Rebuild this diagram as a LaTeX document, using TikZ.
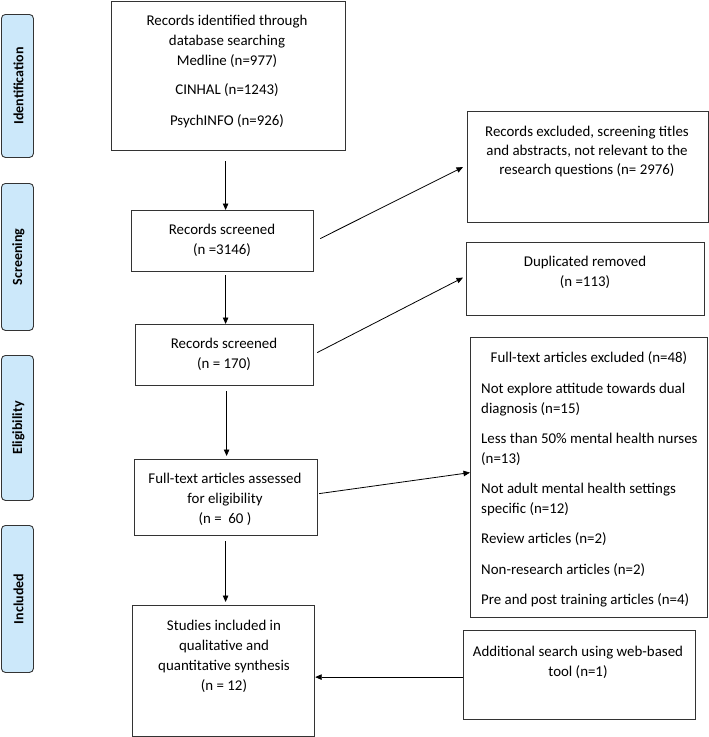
\documentclass[tikz,border=0pt]{standalone}
\usepackage{fontspec}
\setmainfont{Carlito}
\usetikzlibrary{arrows.meta}
\definecolor{barfill}{HTML}{CCE8FA}
\definecolor{edgegray}{HTML}{333333}
\begin{document}
\begin{tikzpicture}[x=1pt,y=-1pt,
  box/.style={draw=edgegray, line width=1.2pt, rectangle, inner sep=0pt, anchor=north west},
  txt/.style={font=\fontsize{14.9}{20}\selectfont, align=center, inner sep=0pt, anchor=north},
  ltxt/.style={font=\fontsize{14.9}{20}\selectfont, align=left, inner sep=0pt, anchor=north west},
  bar/.style={draw=edgegray, fill=barfill, rounded corners=4pt, line width=0.9pt, inner sep=0pt, anchor=north west},
  bartxt/.style={rotate=90, font=\bfseries\fontsize{14}{16}\selectfont, inner sep=0pt},
  arr/.style={-{Triangle[length=6.5pt,width=5.5pt]}, line width=0.8pt, draw=black}]
\useasboundingbox (0,0) rectangle (709,737);

% side bars
\node[bar, minimum width=32pt, minimum height=143pt] (s1) at (1,14) {};
\node[bar, minimum width=32pt, minimum height=147pt] (s2) at (1,183) {};
\node[bar, minimum width=32pt, minimum height=145pt] (s3) at (1,355) {};
\node[bar, minimum width=32pt, minimum height=147pt] (s4) at (1,525) {};
\node[bartxt] (s1t) at ([xshift=1pt]s1.center) {Identification};
\node[bartxt] (s2t) at ([xshift=1pt]s2.center) {Screening};
\node[bartxt] (s3t) at ([xshift=1pt]s3.center) {Eligibility};
\node[bartxt] (s4t) at ([xshift=1pt]s4.center) {Included};

% main boxes
\node[box, minimum width=234pt, minimum height=149pt] (b1) at (111,1) {};
\node[box, minimum width=182pt, minimum height=61pt] (b2) at (131,210) {};
\node[box, minimum width=178pt, minimum height=61pt] (b3) at (135,324) {};
\node[box, minimum width=183pt, minimum height=76pt] (b4) at (134,459) {};
\node[box, minimum width=182pt, minimum height=131pt] (b5) at (132,605) {};

\node[txt] (b1t) at (227,14.5) {Records identified through\\database searching\\Medline (n=977)\\[9pt]CINHAL (n=1243)\\[11pt]PsychINFO (n=926)};
\node[txt] (b2t) at (222,223.5) {Records screened\\(n =3146)};
\node[txt] (b3t) at (224,337.5) {Records screened\\(n = 170)};
\node[txt] (b4t) at (225,472.5) {Full-text articles assessed\\for eligibility\\(n =\ \ 60 )};
\node[txt] (b5t) at (224,619.5) {Studies included in\\qualitative and\\quantitative synthesis\\(n = 12)};

% right boxes
\node[box, minimum width=241pt, minimum height=111pt] (r1) at (467,111) {};
\node[box, minimum width=238pt, minimum height=73pt] (r2) at (466,242) {};
\node[box, minimum width=237pt, minimum height=280pt] (r3) at (470,337) {};
\node[box, minimum width=232pt, minimum height=89pt] (r4) at (463,630) {};

\node[txt, font=\fontsize{14.9}{19.3}\selectfont] (r1t) at (587,125.5) {Records excluded, screening titles\\and abstracts, not relevant to the\\research questions (n= 2976)};
\node[txt] (r2t) at (585,255.5) {Duplicated removed\\(n =113)};
\node[txt] (r3h) at (589,351.5) {Full-text articles excluded (n=48)};
\node[ltxt] (r3t) at (481,382.5) {Not explore attitude towards dual\\diagnosis (n=15)\\[10pt]Less than 50\% mental health nurses\\(n=13)\\[10pt]Not adult mental health settings\\specific (n=12)\\[10pt]Review articles (n=2)\\[11pt]Non-research articles (n=2)\\[10pt]Pre and post training articles (n=4)};
\node[txt] (r4t) at (578,645.5) {Additional search using web-based\\tool (n=1)};

% vertical arrows
\draw[arr] ([xshift=-3pt,yshift=-10pt]b1.south) -- ([xshift=3pt]b2.north);
\draw[arr] ([xshift=3pt,yshift=-3pt]b2.south) -- ([xshift=1pt]b3.north);
\draw[arr] ([xshift=2pt,yshift=-5pt]b3.south) -- ([xshift=0.5pt,yshift=3pt]b4.north);
\draw[arr] ([xshift=-0.5pt,yshift=-5pt]b4.south) -- ([xshift=2pt,yshift=3pt]b5.north);

% diagonal arrows
\draw[arr] ([xshift=6pt,yshift=2.5pt]b2.east) -- ([xshift=-4pt]r1.west);
\draw[arr] ([xshift=3pt,yshift=2.5pt]b3.east) -- ([xshift=-3pt,yshift=1.5pt]r2.west);
\draw[arr] ([xshift=1pt,yshift=4pt]b4.east) -- ([yshift=5pt]r3.west);
\draw[arr] ([yshift=-2pt]r4.west) -- ([yshift=-6pt]b5.east);
\end{tikzpicture}
\end{document}
